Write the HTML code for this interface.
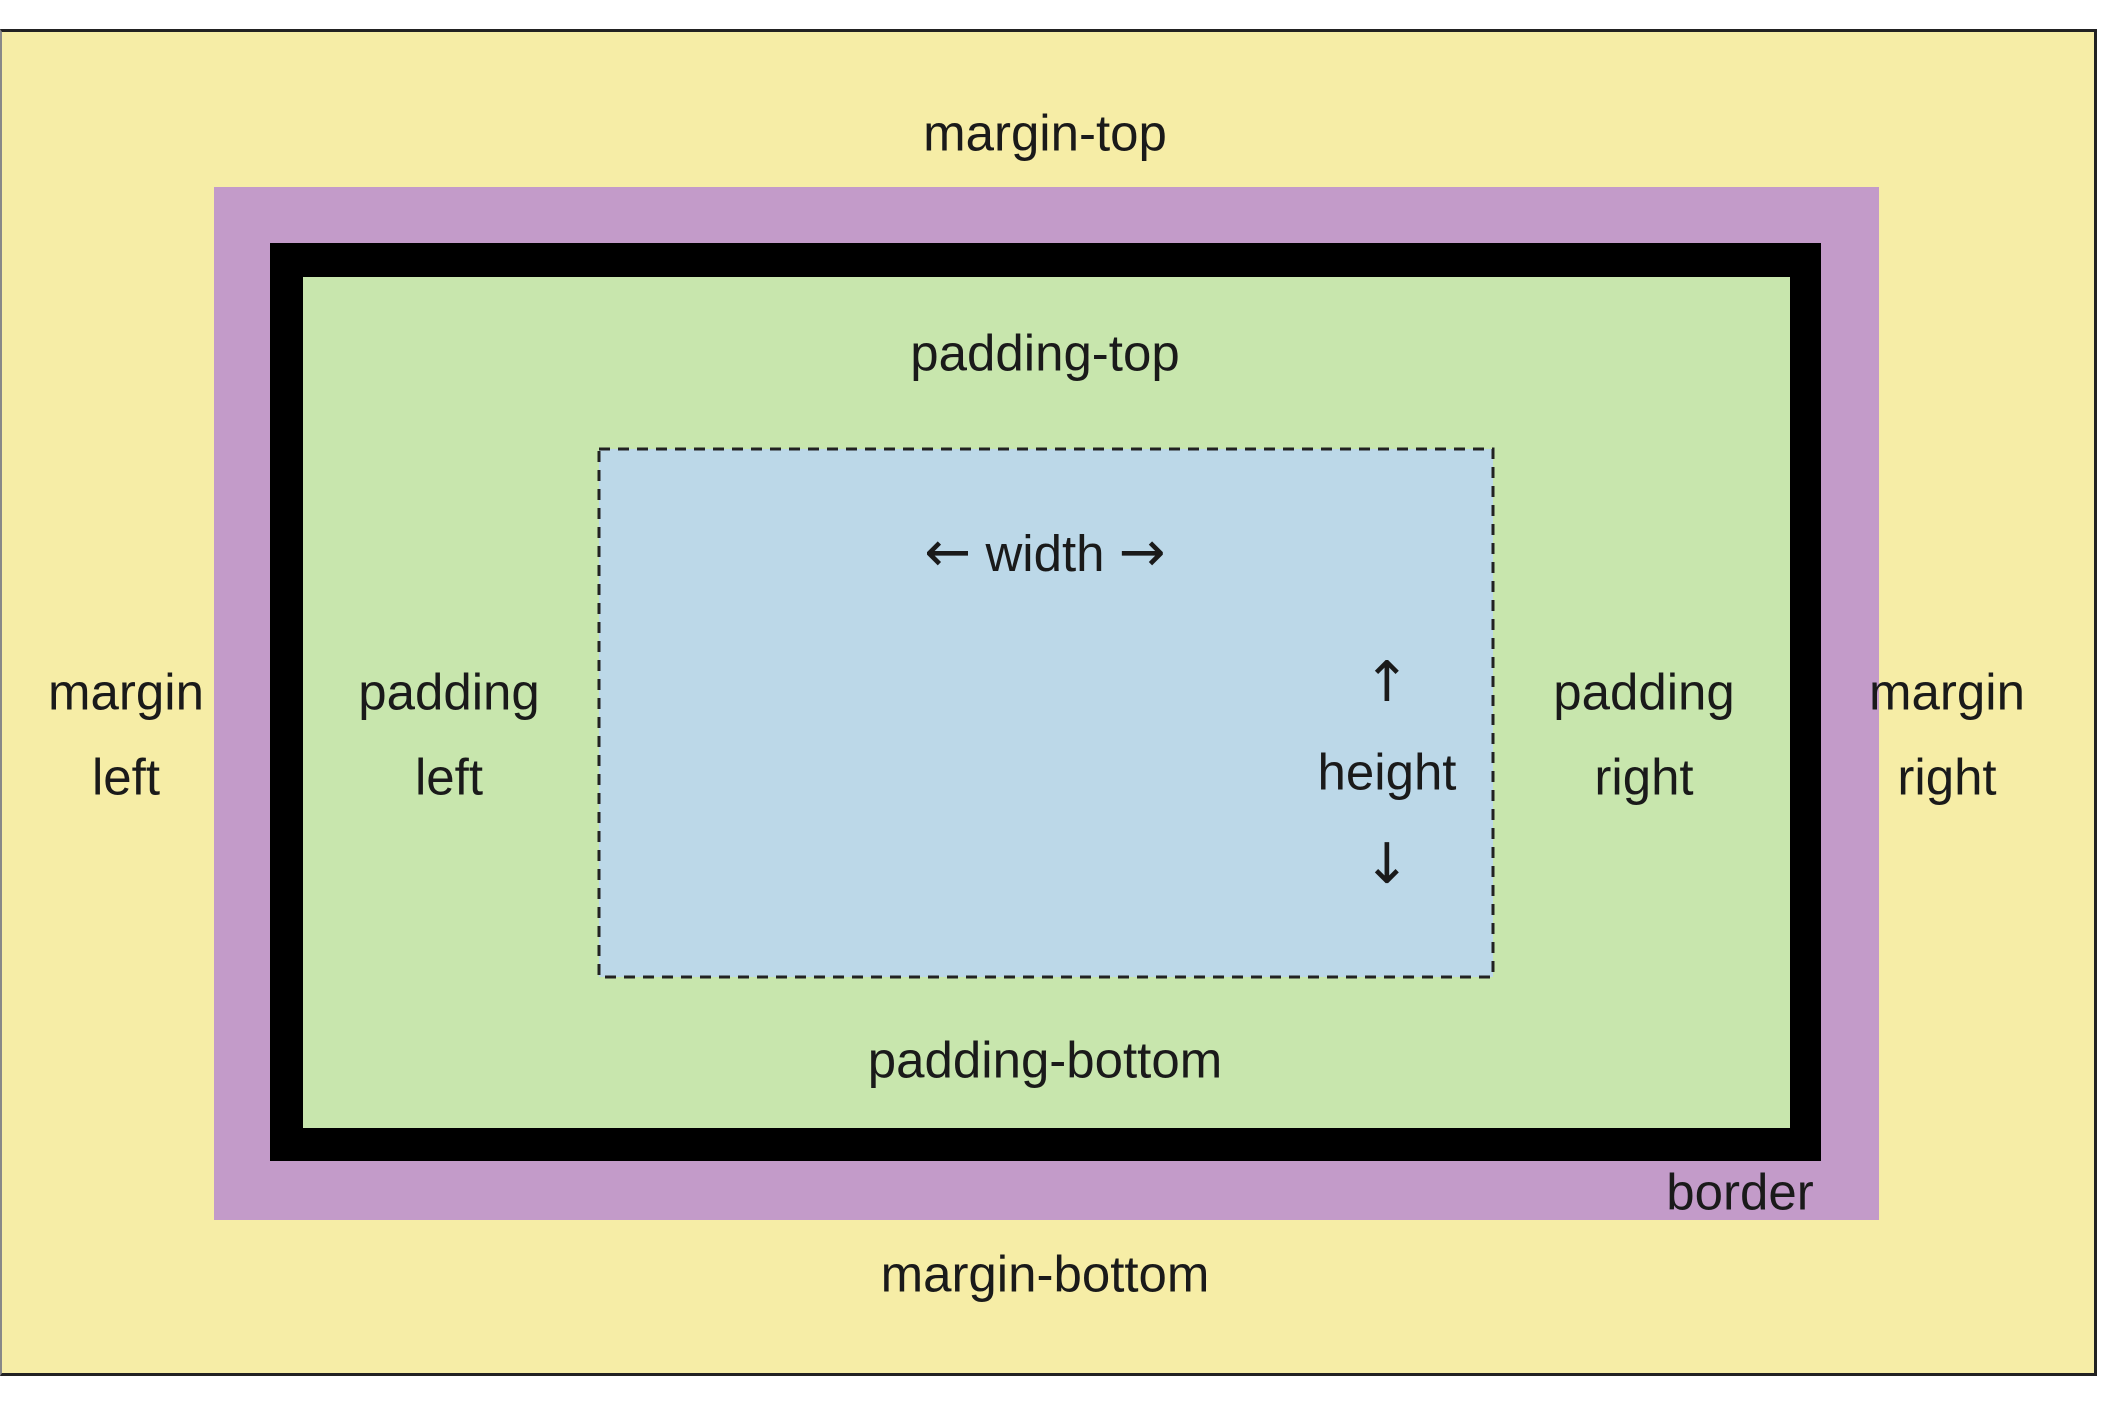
<!DOCTYPE html>
<html><head><meta charset="utf-8"><style>
html,body{margin:0;padding:0;background:#fff;width:2120px;height:1405px;overflow:hidden}
.b{position:absolute;box-sizing:border-box}
.t{position:absolute;transform:translate(-50%,-50%);font-family:"Liberation Sans","DejaVu Sans",sans-serif;font-size:51px;color:#1a1a1a;white-space:nowrap;text-align:center;line-height:1}
.a{font-family:"DejaVu Sans",sans-serif;font-size:56px}
</style></head><body>
<div class="b" style="left:0;top:29px;width:2097px;height:1347px;background:#f6eda6;border:3px solid #222;border-left:2px solid #888"></div>
<div class="b" style="left:214px;top:187px;width:1665px;height:1033px;background:#c39bc9"></div>
<div class="b" style="left:270px;top:243px;width:1551px;height:918px;background:#000"></div>
<div class="b" style="left:303px;top:277px;width:1487px;height:851px;background:#c8e6ad"></div>
<svg class="b" style="left:597px;top:447px" width="898" height="532">
<rect x="2" y="2" width="894" height="528" fill="#bcd8e8" stroke="#222" stroke-width="3" stroke-dasharray="11 8"/>
</svg>
<div class="t" style="left:1045px;top:133px">margin-top</div>
<div class="t" style="left:1045px;top:353px">padding-top</div>
<div class="t" style="left:1045px;top:553px"><span class="a">←</span> width <span class="a">→</span></div>
<div class="t" style="left:126px;top:692px">margin</div>
<div class="t" style="left:126px;top:777px">left</div>
<div class="t" style="left:449px;top:692px">padding</div>
<div class="t" style="left:449px;top:777px">left</div>
<div class="t" style="left:1644px;top:692px">padding</div>
<div class="t" style="left:1644px;top:777px">right</div>
<div class="t" style="left:1947px;top:692px">margin</div>
<div class="t" style="left:1947px;top:777px">right</div>
<div class="t a" style="left:1387px;top:683px">↑</div>
<div class="t" style="left:1387px;top:772px">height</div>
<div class="t a" style="left:1387px;top:865px">↓</div>
<div class="t" style="left:1045px;top:1060px">padding-bottom</div>
<div class="t" style="left:1740px;top:1192px">border</div>
<div class="t" style="left:1045px;top:1274px">margin-bottom</div>
</body></html>
